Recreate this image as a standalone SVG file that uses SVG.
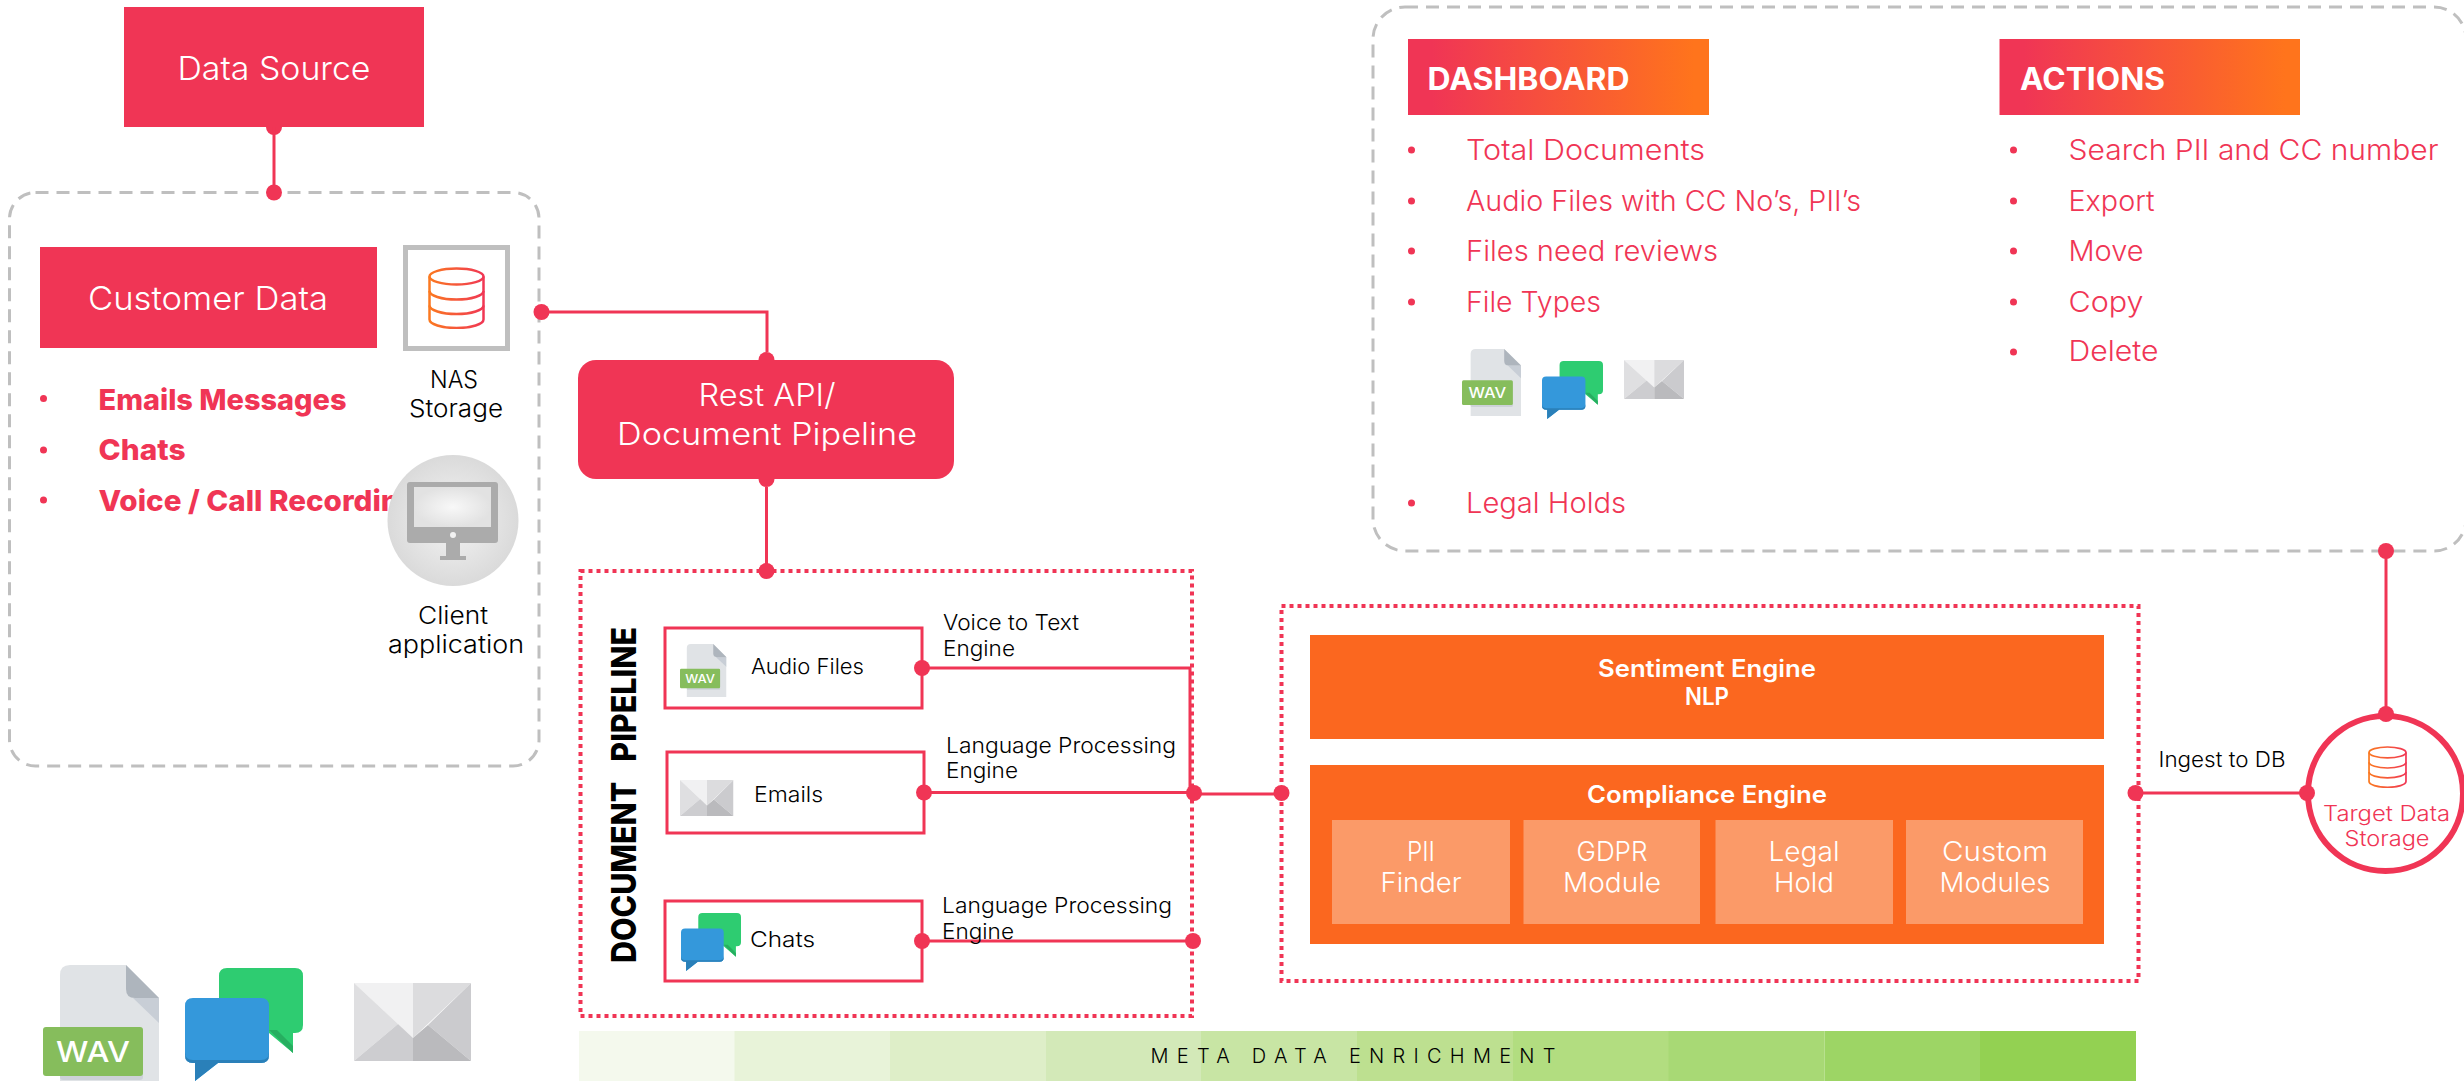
<svg xmlns="http://www.w3.org/2000/svg" width="2464" height="1081" viewBox="0 0 2464 1081">
<style>
text{font-family:Inter,"Noto Sans","Liberation Sans",sans-serif;}
.m{text-anchor:middle}
.w{fill:#fff}
.k{fill:#000}
.r{fill:#F03555}
.b{font-weight:700}
.sb{font-weight:600}
.lt{font-weight:300}
.pk{fill:#F03555}
.or{fill:#FB671F}
.sub{fill:#FB9A68}
.dash{fill:none;stroke:#BFBFBF;stroke-width:3;stroke-dasharray:13 8}
.dot{fill:none;stroke:#F03555;stroke-width:4;stroke-dasharray:4 4}
.box{fill:#fff;stroke:#F03555;stroke-width:3}
.line{fill:none;stroke:#F03555;stroke-width:3}
.l{font-size:22px}
.s{font-size:27px;font-weight:300}
.li{font-size:28px;font-weight:300}
</style>
<defs>
<linearGradient id="hg" x1="0" x2="1" y1="0" y2="0"><stop offset="0.08" stop-color="#F03555"/><stop offset="0.95" stop-color="#FF741C"/></linearGradient>
<linearGradient id="dbg" gradientUnits="userSpaceOnUse" x1="0" x2="57" y1="0" y2="0"><stop offset="0" stop-color="#FB7A1F"/><stop offset="1" stop-color="#F03555"/></linearGradient>
<radialGradient id="cg"><stop offset="0" stop-color="#F4F4F4"/><stop offset="1" stop-color="#DADADA"/></radialGradient>
<radialGradient id="sg"><stop offset="0" stop-color="#F8F8F8"/><stop offset="1" stop-color="#E2E2E2"/></radialGradient>
<symbol id="wav" viewBox="0 0 116 133" preserveAspectRatio="none">
<path d="M27 0H83L116 33V133H17V10Q17 0 27 0Z" fill="#E0E3E6"/>
<path d="M90 33L116 58V33Z" fill="#C8CED6"/>
<path d="M83 0L116 33H92Q83 33 83 24Z" fill="#AEB5BD"/>
<rect x="17" y="66" width="83" height="49" rx="3" fill="#CDD2D8"/>
<rect x="0" y="62" width="100" height="49" rx="3" fill="#86BD5C"/>
<text x="50" y="97" class="m w" font-size="29" font-weight="500" textLength="74" lengthAdjust="spacingAndGlyphs">WAV</text>
</symbol>
<symbol id="chat" viewBox="0 0 118 113" preserveAspectRatio="none">
<path d="M42 0H110Q118 0 118 8V57Q118 65 110 65H108V85L84 65H34V8Q34 0 42 0Z" fill="#2ECC71"/>
<path d="M84 62L108 85V78L92 62Z" fill="#27AE60"/>
<path d="M8 30H76Q84 30 84 38V87Q84 95 76 95H33L10 113V95H8Q0 95 0 87V38Q0 30 8 30Z" fill="#3498DB"/>
<path d="M0 84Q0 92 8 92H76Q84 92 84 84V87Q84 95 76 95H33L10 113V95H8Q0 95 0 87Z" fill="#2A80B9"/>
</symbol>
<symbol id="mail" viewBox="0 0 117 78" preserveAspectRatio="none">
<path d="M0 0H59V55Z" fill="#F1F1F2"/>
<path d="M117 0H59V55Z" fill="#DCDCDE"/>
<path d="M0 0L44 41L0 78Z" fill="#DFDFE1"/>
<path d="M117 0L74 42L117 78Z" fill="#CBCBCE"/>
<path d="M0 78L44 41L59 55V78Z" fill="#CDCDD0"/>
<path d="M59 55L74 42L117 78H59Z" fill="#BABABD"/>
</symbol>
<symbol id="db" viewBox="0 0 57 62" preserveAspectRatio="none">
<g fill="none" stroke="url(#dbg)" stroke-width="2.5">
<ellipse cx="28.5" cy="9.5" rx="27" ry="8"/>
<path d="M1.500 9.500V52.500C1.500 57 13.500 61 28.500 61S55.500 57 55.500 52.500V9.500"/>
<path d="M1.500 24C1.500 28.500 13.500 32.500 28.500 32.500S55.500 28.500 55.500 24"/>
<path d="M1.500 38.500C1.500 43 13.500 47 28.500 47S55.500 43 55.500 38.500"/>
</g>
</symbol>
</defs>

<rect width="2464" height="1081" fill="#fff"/>

<g id="connectors-under">
<circle cx="766.500" cy="360" r="8" class="pk"/>
<circle cx="766.500" cy="479" r="8" class="pk"/>
<circle cx="274" cy="127" r="8" class="pk"/>
</g>

<g id="data-source">
<rect x="124" y="7" width="300" height="120" class="pk"/>
<text x="274" y="80" class="m w lt" font-size="33" textLength="193" lengthAdjust="spacingAndGlyphs">Data Source</text>
</g>

<g id="customer-container">
<rect x="9.500" y="192.500" width="529.500" height="573.500" rx="26" class="dash"/>
</g>

<g id="customer-data">
<rect x="40" y="247" width="337" height="101" class="pk"/>
<text x="208" y="310" class="m w lt" font-size="33" textLength="240" lengthAdjust="spacingAndGlyphs">Customer Data</text>
<g class="r" font-size="29" font-weight="800">
<circle cx="43.500" cy="398.500" r="3.500"/><text x="98.500" y="410" textLength="248" lengthAdjust="spacingAndGlyphs">Emails Messages</text>
<circle cx="43.500" cy="450" r="3.500"/><text x="98.500" y="460" textLength="87" lengthAdjust="spacingAndGlyphs">Chats</text>
<circle cx="43.500" cy="500" r="3.500"/><text x="98.500" y="511" textLength="320" lengthAdjust="spacingAndGlyphs">Voice / Call Recording</text>
</g>
</g>

<g id="nas-storage">
<rect x="405.500" y="247.500" width="102" height="101" fill="#fff" stroke="#BFBFBF" stroke-width="5"/>
<use href="#db" x="428" y="267" width="57" height="62"/>
<text x="454" y="388" class="m k lt" font-size="24" textLength="48" lengthAdjust="spacingAndGlyphs">NAS</text>
<text x="456" y="417" class="m k lt" font-size="24" textLength="94" lengthAdjust="spacingAndGlyphs">Storage</text>
</g>

<g id="client-application">
<circle cx="453" cy="520.500" r="65.500" fill="url(#cg)"/>
<rect x="407" y="482" width="91" height="61" rx="3" fill="#ABABAB"/>
<rect x="414" y="487" width="77" height="40" fill="url(#sg)"/>
<rect x="446" y="543" width="14" height="14" fill="#ABABAB"/>
<rect x="440" y="556" width="26" height="4" fill="#ABABAB"/>
<circle cx="453" cy="535" r="3" fill="#F2F2F2"/>
<text x="453" y="624" class="m k lt" font-size="24" textLength="70" lengthAdjust="spacingAndGlyphs">Client</text>
<text x="456" y="653" class="m k lt" font-size="24" textLength="136" lengthAdjust="spacingAndGlyphs">application</text>
</g>

<g id="rest-api">
<rect x="578" y="360" width="376" height="119" rx="18" class="pk"/>
<text x="767" y="406" class="m w lt" font-size="31" textLength="137" lengthAdjust="spacingAndGlyphs">Rest API/</text>
<text x="767" y="445" class="m w lt" font-size="31" textLength="300" lengthAdjust="spacingAndGlyphs">Document Pipeline</text>
</g>

<g id="document-pipeline">
<rect x="580.500" y="571" width="611.500" height="445" class="dot"/>
<text transform="translate(636 963) rotate(-90)" class="k" font-size="34" font-weight="800" textLength="336" lengthAdjust="spacingAndGlyphs" xml:space="preserve">DOCUMENT   PIPELINE</text>
</g>

<g id="audio-files">
<rect x="665" y="628" width="257" height="80" class="box"/>
<use href="#wav" x="680" y="644" width="46.500" height="53"/>
<text x="751" y="674" class="l k lt" textLength="113" lengthAdjust="spacingAndGlyphs">Audio Files</text>
</g>
<g id="emails">
<rect x="667" y="752" width="257" height="81" class="box"/>
<use href="#mail" x="680" y="780" width="53.500" height="36"/>
<text x="754" y="802" class="l k lt" textLength="69" lengthAdjust="spacingAndGlyphs">Emails</text>
</g>
<g id="chats">
<rect x="665" y="901" width="257" height="80" class="box"/>
<use href="#chat" x="681" y="913" width="60" height="58"/>
<text x="750" y="947" class="l k lt" textLength="65" lengthAdjust="spacingAndGlyphs">Chats</text>
</g>

<g id="meta-data-enrichment">
<rect x="579" y="1031" width="156" height="50" fill="#F4F9ED"/>
<rect x="734.500" y="1031" width="156" height="50" fill="#E8F3D9"/>
<rect x="890" y="1031" width="156" height="50" fill="#DEEEC8"/>
<rect x="1046" y="1031" width="155.500" height="50" fill="#D3E9B8"/>
<rect x="1201" y="1031" width="156" height="50" fill="#C8E5A4"/>
<rect x="1357" y="1031" width="156" height="50" fill="#BDE090"/>
<rect x="1513" y="1031" width="156" height="50" fill="#B2DD80"/>
<rect x="1668.500" y="1031" width="156" height="50" fill="#A8D975"/>
<rect x="1824.500" y="1031" width="156" height="50" fill="#9DD565"/>
<rect x="1980" y="1031" width="156" height="50" fill="#93D152"/>
<text x="1150.500" y="1063" class="k lt" font-size="20" textLength="405" lengthAdjust="spacing" xml:space="preserve">META DATA ENRICHMENT</text>
</g>

<g id="engines">
<rect x="1281.500" y="606" width="857" height="375" class="dot"/>
</g>
<g id="sentiment-engine">
<rect x="1310" y="635" width="794" height="104" class="or"/>
<text x="1707" y="677" class="m w sb" font-size="24" textLength="218" lengthAdjust="spacingAndGlyphs">Sentiment Engine</text>
<text x="1707" y="705" class="m w sb" font-size="24" textLength="44" lengthAdjust="spacingAndGlyphs">NLP</text>
</g>
<g id="compliance-engine">
<rect x="1310" y="765" width="794" height="179" class="or"/>
<text x="1707" y="803" class="m w sb" font-size="24" textLength="240" lengthAdjust="spacingAndGlyphs">Compliance Engine</text>
</g>
<g id="pii-finder">
<rect x="1332" y="820" width="178" height="104" class="sub"/>
<text x="1421" y="861" class="m w s" textLength="28" lengthAdjust="spacingAndGlyphs">PII</text>
<text x="1421" y="892" class="m w s" textLength="81" lengthAdjust="spacingAndGlyphs">Finder</text>
</g>
<g id="gdpr-module">
<rect x="1523.500" y="820" width="176.500" height="104" class="sub"/>
<text x="1612" y="861" class="m w s" textLength="71" lengthAdjust="spacingAndGlyphs">GDPR</text>
<text x="1612" y="892" class="m w s" textLength="98" lengthAdjust="spacingAndGlyphs">Module</text>
</g>
<g id="legal-hold">
<rect x="1715.500" y="820" width="177.500" height="104" class="sub"/>
<text x="1804" y="861" class="m w s" textLength="71" lengthAdjust="spacingAndGlyphs">Legal</text>
<text x="1804" y="892" class="m w s" textLength="60" lengthAdjust="spacingAndGlyphs">Hold</text>
</g>
<g id="custom-modules">
<rect x="1906" y="820" width="177" height="104" class="sub"/>
<text x="1995" y="861" class="m w s" textLength="106" lengthAdjust="spacingAndGlyphs">Custom</text>
<text x="1995" y="892" class="m w s" textLength="111" lengthAdjust="spacingAndGlyphs">Modules</text>
</g>

<g id="target-data-storage">
<circle cx="2385.500" cy="793.500" r="77.500" fill="#fff" stroke="#F03555" stroke-width="6"/>
<use href="#db" x="2368" y="746" width="39" height="42"/>
<text x="2386.500" y="821" class="m r lt" font-size="21" textLength="127" lengthAdjust="spacingAndGlyphs">Target Data</text>
<text x="2387" y="846" class="m r lt" font-size="21" textLength="85" lengthAdjust="spacingAndGlyphs">Storage</text>
</g>

<g id="dashboard-container">
<rect x="1373" y="7" width="1093" height="544" rx="32" class="dash"/>
</g>
<g id="dashboard">
<rect x="1408" y="39" width="301" height="76" fill="url(#hg)"/>
<text x="1427.500" y="90" class="w b" font-size="31" textLength="202" lengthAdjust="spacingAndGlyphs">DASHBOARD</text>
<g class="r li">
<circle cx="1411.500" cy="150" r="3.500"/><text x="1466" y="160" textLength="239" lengthAdjust="spacingAndGlyphs">Total Documents</text>
<circle cx="1411.500" cy="201" r="3.500"/><text x="1466" y="211" textLength="395" lengthAdjust="spacingAndGlyphs">Audio Files with CC No’s, PII’s</text>
<circle cx="1411.500" cy="251" r="3.500"/><text x="1466" y="261" textLength="252" lengthAdjust="spacingAndGlyphs">Files need reviews</text>
<circle cx="1411.500" cy="302" r="3.500"/><text x="1466" y="312" textLength="135" lengthAdjust="spacingAndGlyphs">File Types</text>
<circle cx="1411.500" cy="503" r="3.500"/><text x="1466" y="513" textLength="160" lengthAdjust="spacingAndGlyphs">Legal Holds</text>
</g>
<use href="#wav" x="1462" y="349" width="59" height="67"/>
<use href="#chat" x="1542" y="361" width="61" height="58"/>
<use href="#mail" x="1624" y="360" width="60" height="39"/>
</g>
<g id="actions">
<rect x="1999.500" y="39" width="300.500" height="76" fill="url(#hg)"/>
<text x="2020" y="90" class="w b" font-size="31" textLength="145" lengthAdjust="spacingAndGlyphs">ACTIONS</text>
<g class="r li">
<circle cx="2013.500" cy="150" r="3.500"/><text x="2068.500" y="160" textLength="370" lengthAdjust="spacingAndGlyphs">Search PII and CC number</text>
<circle cx="2013.500" cy="201" r="3.500"/><text x="2068.500" y="211" textLength="86" lengthAdjust="spacingAndGlyphs">Export</text>
<circle cx="2013.500" cy="251" r="3.500"/><text x="2068.500" y="261" textLength="75" lengthAdjust="spacingAndGlyphs">Move</text>
<circle cx="2013.500" cy="302" r="3.500"/><text x="2068.500" y="312" textLength="75" lengthAdjust="spacingAndGlyphs">Copy</text>
<circle cx="2013.500" cy="352" r="3.500"/><text x="2068.500" y="361" textLength="90" lengthAdjust="spacingAndGlyphs">Delete</text>
</g>
</g>

<g id="icons-legend">
<use href="#wav" x="43" y="965" width="116" height="133"/>
<use href="#chat" x="185" y="968" width="118" height="113"/>
<use href="#mail" x="354" y="983" width="117" height="78"/>
</g>

<g id="connectors">
<path class="line" d="M274 127V192"/>
<path class="line" d="M541.500 312H767V352"/>
<path class="line" d="M766.500 487V571"/>
<path class="line" d="M922 668H1190V792"/>
<path class="line" d="M924 792.500H1194"/>
<path class="line" d="M922 941H1193"/>
<path class="line" d="M1194 794H1281.500"/>
<path class="line" d="M2135.500 793H2307"/>
<path class="line" d="M2386 551V713"/>
<g class="pk">
<circle cx="274" cy="192.500" r="8"/>
<circle cx="541.500" cy="312" r="8"/><circle cx="766.500" cy="571" r="8"/>
<circle cx="922" cy="668" r="8"/><circle cx="924" cy="792.500" r="8"/><circle cx="922" cy="941" r="8"/>
<circle cx="1194" cy="793" r="8"/><circle cx="1193" cy="941" r="8"/><circle cx="1281.500" cy="793" r="8"/>
<circle cx="2135.500" cy="793" r="8"/><circle cx="2307" cy="793" r="8"/>
<circle cx="2386" cy="714" r="8"/><circle cx="2386" cy="551" r="8"/>
</g>
</g>

<g id="connector-labels">
<text x="943" y="630" class="l k lt" textLength="136" lengthAdjust="spacingAndGlyphs">Voice to Text</text>
<text x="943" y="656" class="l k lt" textLength="72" lengthAdjust="spacingAndGlyphs">Engine</text>
<text x="946" y="753" class="l k lt" textLength="230" lengthAdjust="spacingAndGlyphs">Language Processing</text>
<text x="946" y="778" class="l k lt" textLength="72" lengthAdjust="spacingAndGlyphs">Engine</text>
<text x="942" y="913" class="l k lt" textLength="230" lengthAdjust="spacingAndGlyphs">Language Processing</text>
<text x="942" y="939" class="l k lt" textLength="72" lengthAdjust="spacingAndGlyphs">Engine</text>
<text x="2158.500" y="767" class="l k lt" textLength="127" lengthAdjust="spacingAndGlyphs">Ingest to DB</text>
</g>
</svg>
